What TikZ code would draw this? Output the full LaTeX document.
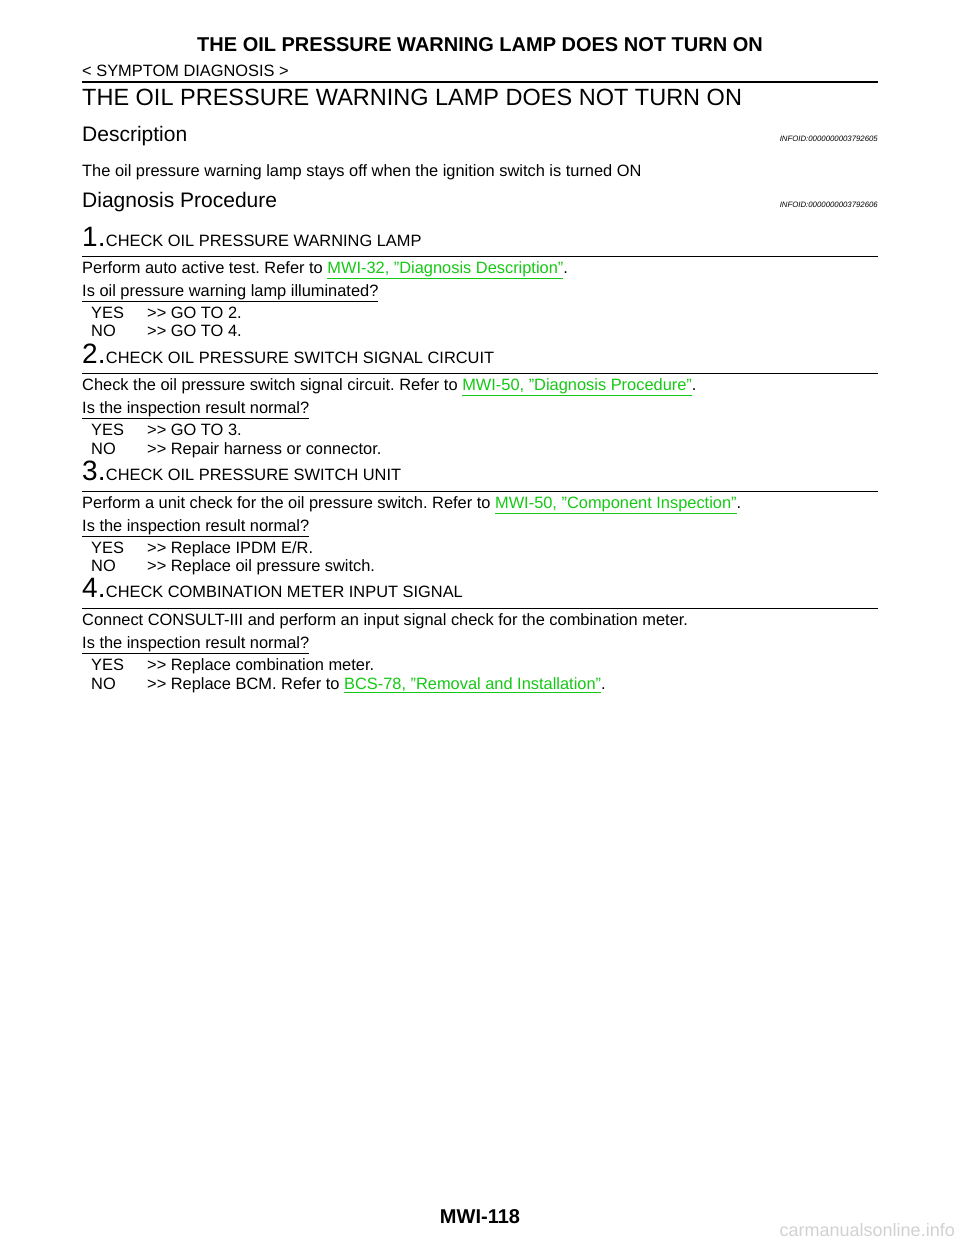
\documentclass[tikz,border=0pt]{standalone}
\usepackage{fontspec}
\setmainfont{Liberation Sans}[Ligatures=ResetAll]
\frenchspacing
\definecolor{lnk}{RGB}{20,200,20}
\newcommand{\lk}[1]{\textcolor{lnk}{\underline{#1}}}
\newcommand{\qq}{\symbol{34}}
\newcommand{\arr}{{>}{>}}
\begin{document}
\begin{tikzpicture}[x=1pt,y=-1pt,
  tx/.style={anchor=base west,inner sep=0pt,font=\fontsize{16.4}{18}\selectfont},
  num/.style={anchor=base west,inner sep=0pt,font=\fontsize{28}{30}\selectfont},
  rule/.style={line width=1pt}]
\useasboundingbox (0,0) rectangle (960,1242);
\node[anchor=base,inner sep=0pt,font=\fontsize{20}{22}\bfseries] (hd) at (480,51) {THE OIL PRESSURE WARNING LAMP DOES NOT TURN ON};
\node[tx] (sd) at (82,76) {< SYMPTOM DIAGNOSIS >};
\draw[line width=2pt] (82,82) -- (878,82);
\node[anchor=base west,inner sep=0pt,font=\fontsize{23.5}{26}\selectfont] (tt) at (82,105) {THE OIL PRESSURE WARNING LAMP DOES NOT TURN ON};
\node[anchor=base west,inner sep=0pt,font=\fontsize{21}{24}\selectfont] (de) at (82,141) {Description};
\node[anchor=base east,inner sep=0pt,font=\fontsize{7.8}{8}\itshape] (i1) at (878,141) {INFOID:0000000003792605};
\node[tx] (dt) at (82,176) {The oil pressure warning lamp stays off when the ignition switch is turned ON};
\node[anchor=base west,inner sep=0pt,font=\fontsize{21}{24}\selectfont] (dp) at (82,207) {Diagnosis Procedure};
\node[anchor=base east,inner sep=0pt,font=\fontsize{7.8}{8}\itshape] (i2) at (878,207) {INFOID:0000000003792606};
% step 1
\node[num] (n1) at (82,246) {1.};
\node[tx,anchor=base west] (c1) at (n1.base east) {CHECK OIL PRESSURE WARNING LAMP};
\draw[rule] (82,256) -- (878,256);
\node[tx] (p1) at (82,273) {Perform auto active test. Refer to \lk{MWI-32, \qq Diagnosis Description\qq}.};
\node[tx] (q1) at (82,296) {\underline{Is oil pressure warning lamp illuminated?}};
\node[tx] (y1) at (91,318) {YES};\node[tx] (y1b) at (147,318) {\arr{} GO TO 2.};
\node[tx] (o1) at (91,336) {NO};\node[tx] (o1b) at (147,336) {\arr{} GO TO 4.};
% step 2
\node[num] (n2) at (82,363) {2.};
\node[tx,anchor=base west] (c2) at (n2.base east) {CHECK OIL PRESSURE SWITCH SIGNAL CIRCUIT};
\draw[rule] (82,373) -- (878,373);
\node[tx] (p2) at (82,390) {Check the oil pressure switch signal circuit. Refer to \lk{MWI-50, \qq Diagnosis Procedure\qq}.};
\node[tx] (q2) at (82,413) {\underline{Is the inspection result normal?}};
\node[tx] (y2) at (91,435) {YES};\node[tx] (y2b) at (147,435) {\arr{} GO TO 3.};
\node[tx] (o2) at (91,454) {NO};\node[tx] (o2b) at (147,454) {\arr{} Repair harness or connector.};
% step 3
\node[num] (n3) at (82,480) {3.};
\node[tx,anchor=base west] (c3) at (n3.base east) {CHECK OIL PRESSURE SWITCH UNIT};
\draw[rule] (82,491) -- (878,491);
\node[tx] (p3) at (82,508) {Perform a unit check for the oil pressure switch. Refer to \lk{MWI-50, \qq Component Inspection\qq}.};
\node[tx] (q3) at (82,531) {\underline{Is the inspection result normal?}};
\node[tx] (y3) at (91,553) {YES};\node[tx] (y3b) at (147,553) {\arr{} Replace IPDM E/R.};
\node[tx] (o3) at (91,571) {NO};\node[tx] (o3b) at (147,571) {\arr{} Replace oil pressure switch.};
% step 4
\node[num] (n4) at (82,597) {4.};
\node[tx,anchor=base west] (c4) at (n4.base east) {CHECK COMBINATION METER INPUT SIGNAL};
\draw[rule] (82,608) -- (878,608);
\node[tx] (p4) at (82,625) {Connect CONSULT-III and perform an input signal check for the combination meter.};
\node[tx] (q4) at (82,648) {\underline{Is the inspection result normal?}};
\node[tx] (y4) at (91,670) {YES};\node[tx] (y4b) at (147,670) {\arr{} Replace combination meter.};
\node[tx] (o4) at (91,689) {NO};\node[tx] (o4b) at (147,689) {\arr{} Replace BCM. Refer to \lk{BCS-78, \qq Removal and Installation\qq}.};
% footer
\node[anchor=base,inner sep=0pt,font=\fontsize{20}{22}\bfseries] (ft) at (480,1223) {MWI-118};
\node[anchor=base east,inner sep=0pt,font=\fontsize{18}{18}\selectfont,text=black!18] (wm) at (955,1236) {carmanualsonline.info};
\end{tikzpicture}
\end{document}
